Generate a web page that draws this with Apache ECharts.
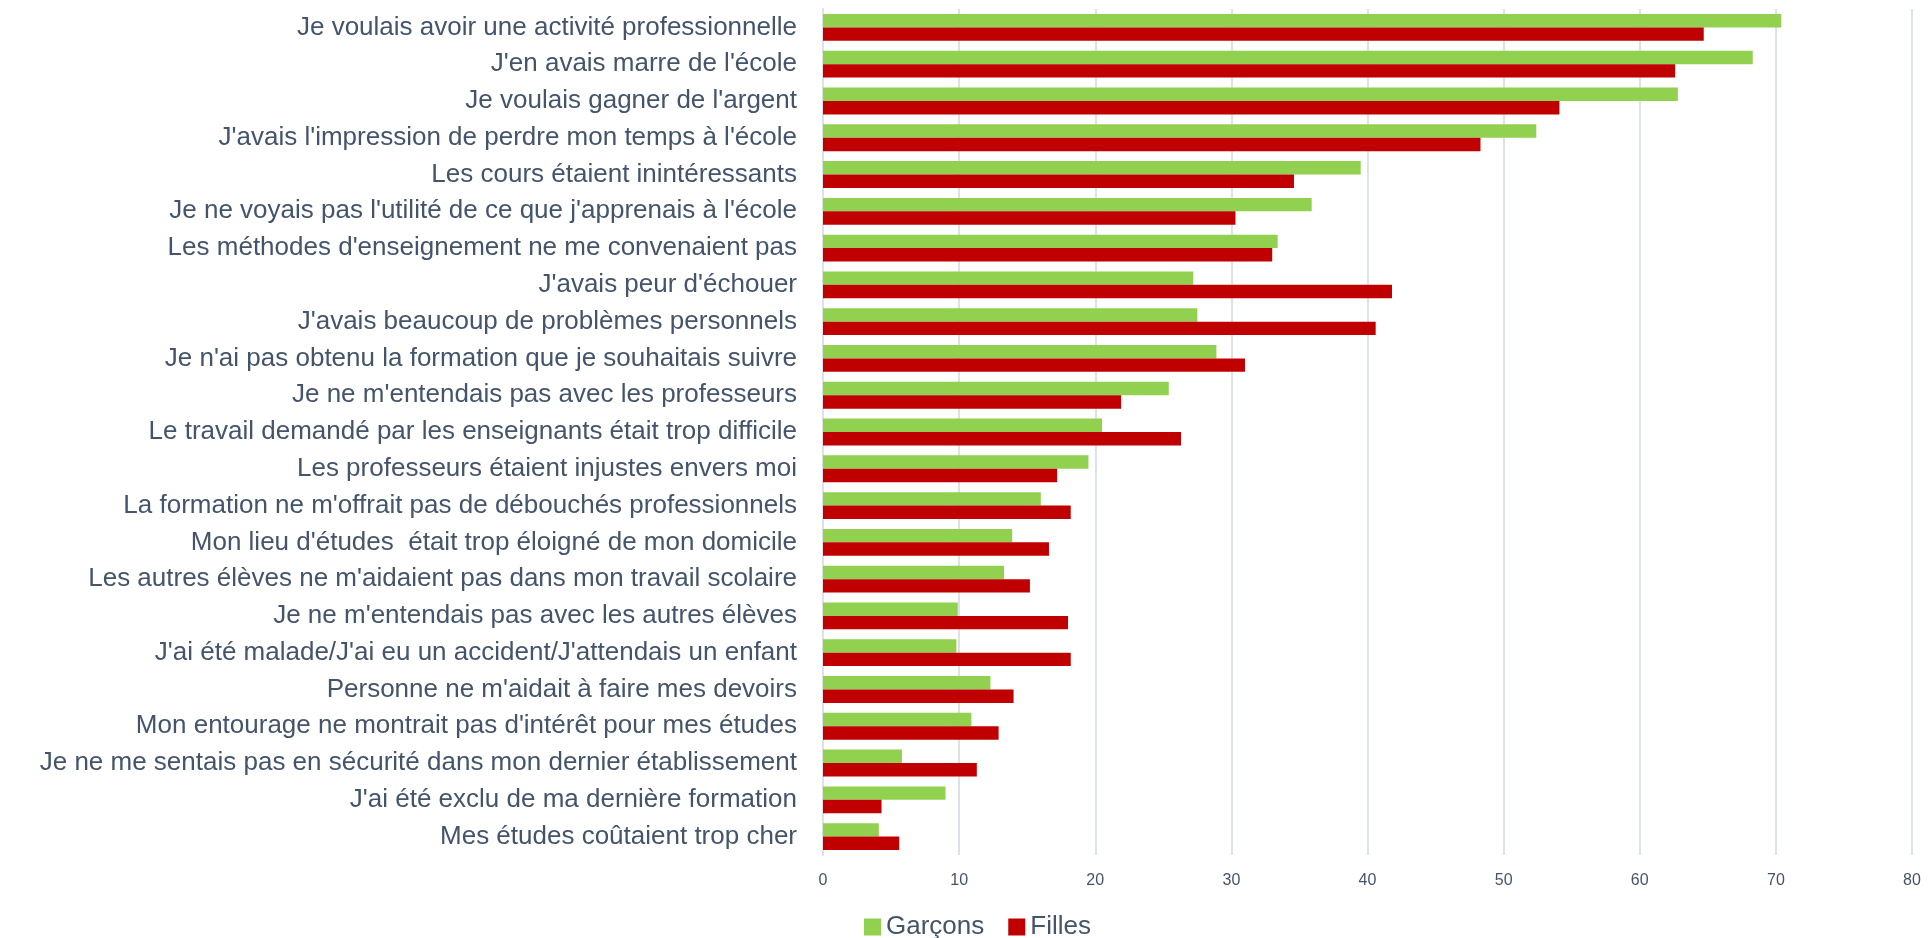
<!DOCTYPE html>
<html>
<head>
<meta charset="utf-8">
<script src="https://cdn.jsdelivr.net/npm/echarts@6/dist/echarts.min.js"></script>
<style>
  html, body {margin: 0; padding: 0; background: #fff;}
  #chart {width: 1928px; height: 938px;}
</style>
</head>
<body>
<div id="chart"></div>
<script>
const categories = [
  'Je voulais avoir une activité professionnelle',
  "J'en avais marre de l'école",
  "Je voulais gagner de l'argent",
  "J'avais l'impression de perdre mon temps à l'école",
  'Les cours étaient inintéressants',
  "Je ne voyais pas l'utilité de ce que j'apprenais à l'école",
  "Les méthodes d'enseignement ne me convenaient pas",
  "J'avais peur d'échouer",
  "J'avais beaucoup de problèmes personnels",
  "Je n'ai pas obtenu la formation que je souhaitais suivre",
  "Je ne m'entendais pas avec les professeurs",
  'Le travail demandé par les enseignants était trop difficile',
  'Les professeurs étaient injustes envers moi',
  "La formation ne m'offrait pas de débouchés professionnels",
  "Mon lieu d'études  était trop éloigné de mon domicile",
  "Les autres élèves ne m'aidaient pas dans mon travail scolaire",
  "Je ne m'entendais pas avec les autres élèves",
  "J'ai été malade/J'ai eu un accident/J'attendais un enfant",
  "Personne ne m'aidait à faire mes devoirs",
  "Mon entourage ne montrait pas d'intérêt pour mes études",
  'Je ne me sentais pas en sécurité dans mon dernier établissement',
  "J'ai été exclu de ma dernière formation",
  'Mes études coûtaient trop cher'
]
const garcons = [70.4, 68.3, 62.8, 52.4, 39.5, 35.9, 33.4, 27.2, 27.5, 28.9, 25.4, 20.5, 19.5, 16.0, 13.9, 13.3, 9.9, 9.8, 12.3, 10.9, 5.8, 9.0, 4.1]
const filles = [64.7, 62.6, 54.1, 48.3, 34.6, 30.3, 33.0, 41.8, 40.6, 31.0, 21.9, 26.3, 17.2, 18.2, 16.6, 15.2, 18.0, 18.2, 14.0, 12.9, 11.3, 4.3, 5.6]
const xTicks = {min: 0, max: 80, interval: 10}

const textColor = '#44546A'
const font = '"Liberation Sans", Arial, sans-serif'

const chart = echarts.init(document.getElementById('chart'))
chart.setOption({
  animation: false,
  textStyle: {fontFamily: font},
  grid: {left: 823, right: 16, top: 9, bottom: 83},
  legend: {
    top: 909,
    left: 859,
    itemWidth: 17,
    itemHeight: 17,
    itemGap: 24,
    icon: 'rect',
    textStyle: {color: textColor, fontSize: 26, fontFamily: font},
    data: ['Garçons', 'Filles']
  },
  xAxis: {
    type: 'value',
    min: xTicks.min,
    max: xTicks.max,
    interval: xTicks.interval,
    axisLine: {show: false},
    axisTick: {show: false},
    axisLabel: {color: textColor, fontSize: 16, margin: 18, fontFamily: font},
    splitLine: {lineStyle: {color: '#DDE2E8', width: 2}}
  },
  yAxis: {
    type: 'category',
    inverse: true,
    data: categories,
    axisLine: {lineStyle: {color: '#DDE2E8', width: 2}},
    axisTick: {show: false},
    axisLabel: {color: textColor, fontSize: 26, margin: 26, fontFamily: font}
  },
  series: [
    {
      name: 'Garçons',
      type: 'bar',
      data: garcons,
      barGap: '0%',
      barCategoryGap: '27%',
      itemStyle: {color: '#92D050'}
    },
    {
      name: 'Filles',
      type: 'bar',
      data: filles,
      barGap: '0%',
      barCategoryGap: '27%',
      itemStyle: {color: '#C00000'}
    }
  ]
})
</script>
</body>
</html>
